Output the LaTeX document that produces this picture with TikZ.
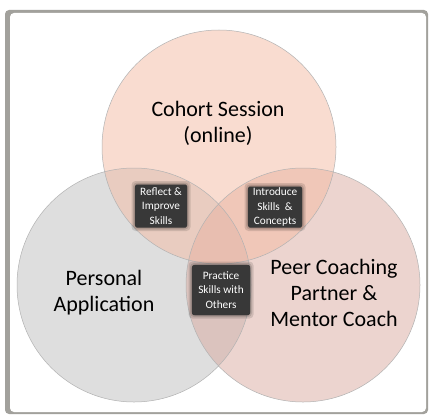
\documentclass[tikz,border=0pt]{standalone}
\usepackage{fontspec}
\setmainfont{Carlito}
\begin{document}
\begin{tikzpicture}[x=1pt,y=-1pt,
  ring/.style={fill opacity=0.5},
  bigtext/.style={align=center,font=\fontsize{22}{26}\selectfont,text=black},
  tag/.style={align=center,text=white,font=\fontsize{11.3}{14.5}\selectfont,
    fill=black!78,inner sep=0pt,rounded corners=1.5pt},
  glow/.style={fill=black,fill opacity=0.12,rounded corners=4pt}]
\useasboundingbox (0,0) rectangle (430,417);
% frame
\fill[rounded corners=4pt,fill={rgb,255:red,162;green,161;blue,156}] (5,10) rectangle (428,414);
\fill[rounded corners=4pt,white] (10,13) rectangle (426,412);
% circles
\coordinate (ct) at (219,147);
\coordinate (cl) at (134,285);
\coordinate (cr) at (303,285);
\fill[ring,fill={rgb,255:red,190;green,190;blue,190}] (cl) circle (117);
\fill[ring,fill={rgb,255:red,218;green,170;blue,160}] (cr) circle (117);
\fill[ring,fill={rgb,255:red,245;green,187;blue,163}] (ct) circle (117);
\draw[black!30,line width=0.5pt] (cl) circle (117) (cr) circle (117) (ct) circle (117);
% circle titles
\node[bigtext] (tcohort) at (218,123) {Cohort Session\\(online)};
\node[bigtext] (tpersonal) at (104,293) {Personal\\Application};
\node[bigtext] (tpeer) at (334,293) {Peer Coaching\\Partner \&\\Mentor Coach};
% overlap tags with soft edges
\foreach \cx/\cy/\w/\h in {161/206/52/43, 275/207/54/41, 221/290/58/50}{
  \fill[glow] (\cx-\w/2-3.5,\cy-\h/2-3.5) rectangle (\cx+\w/2+3.5,\cy+\h/2+3.5);
  \fill[glow] (\cx-\w/2-2,\cy-\h/2-2) rectangle (\cx+\w/2+2,\cy+\h/2+2);
  \fill[glow] (\cx-\w/2-0.8,\cy-\h/2-0.8) rectangle (\cx+\w/2+0.8,\cy+\h/2+0.8);
}
\node[tag,minimum width=52pt,minimum height=43pt] (reflect) at (161,206) {Reflect \&\\Improve\\Skills};
\node[tag,minimum width=54pt,minimum height=41pt] (introduce) at (275,207) {Introduce\\Skills \ \&\\Concepts};
\node[tag,minimum width=58pt,minimum height=50pt] (practice) at (221,290) {Practice\\Skills with\\Others};
\end{tikzpicture}
\end{document}
